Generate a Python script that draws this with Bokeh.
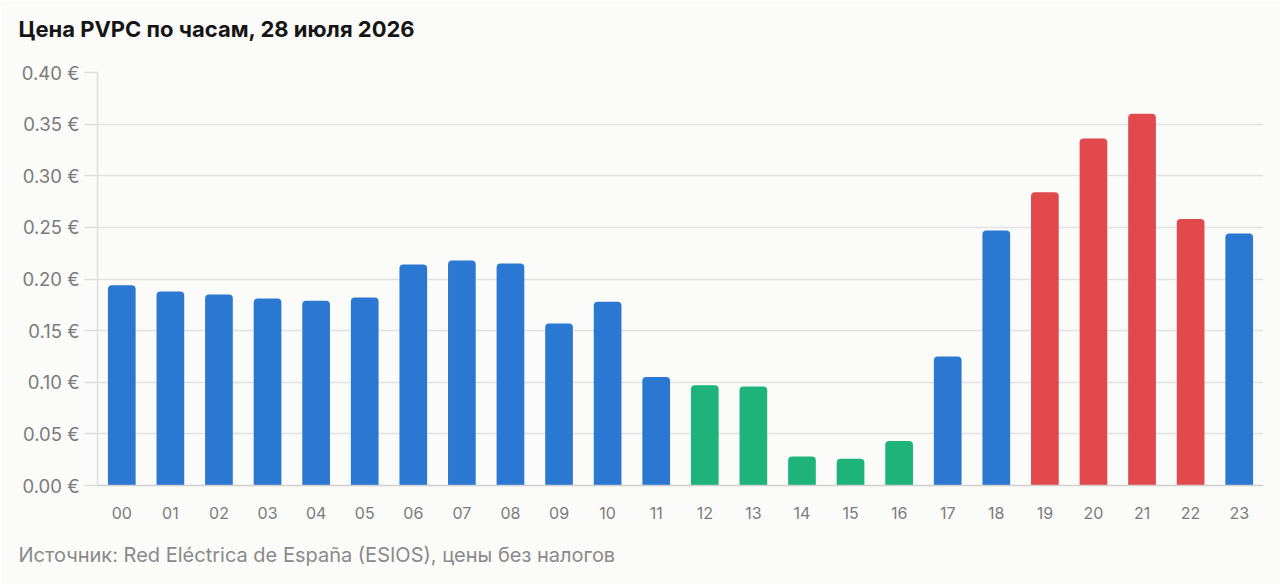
from bokeh.plotting import figure
from bokeh.models import ColumnDataSource, FactorRange, Range1d, Title, PrintfTickFormatter
from bokeh.transform import factor_cmap
from bokeh.embed import file_html
from bokeh.resources import INLINE

# ---- data ----
hours = ["00", "01", "02", "03", "04", "05", "06", "07", "08", "09", "10", "11",
         "12", "13", "14", "15", "16", "17", "18", "19", "20", "21", "22", "23"]
prices = [0.194, 0.188, 0.185, 0.181, 0.179, 0.182, 0.214, 0.218, 0.215, 0.157, 0.178, 0.105,
          0.097, 0.096, 0.028, 0.026, 0.043, 0.125, 0.247, 0.284, 0.336, 0.360, 0.258, 0.244]
bands = ["normal", "normal", "normal", "normal", "normal", "normal", "normal", "normal",
         "normal", "normal", "normal", "normal", "cheap", "cheap", "cheap", "cheap",
         "cheap", "normal", "normal", "peak", "peak", "peak", "peak", "normal"]
band_names = ["normal", "cheap", "peak"]
y_ticks = [0.0, 0.05, 0.10, 0.15, 0.20, 0.25, 0.30, 0.35, 0.40]

title_text = "Цена PVPC по часам, 28 июля 2026"
source_text = "Источник: Red Eléctrica de España (ESIOS), цены без налогов"

BG = "#fbfbf9"
FONT = "Inter"

src = ColumnDataSource(dict(hour=hours, price=prices, band=bands))

p = figure(width=1280, height=584,
           x_range=FactorRange(factors=hours, range_padding=0),
           y_range=Range1d(0, 0.40),
           output_backend="svg", toolbar_location=None,
           min_border_left=97, min_border_right=17,
           min_border_top=72, min_border_bottom=99,
           background_fill_color=BG, border_fill_color=BG,
           outline_line_color=None)

p.vbar(x="hour", top="price", width=0.57, source=src,
       fill_color=factor_cmap("band", palette=["#2b78d3", "#1db37a", "#e2494c"], factors=band_names),
       line_color=None, border_radius=(4, 4, 0, 0))

# y axis
p.yaxis.ticker = y_ticks
p.yaxis.formatter = PrintfTickFormatter(format="%.2f €")
p.yaxis.axis_line_color = "#dedede"
p.yaxis.axis_line_width = 1.5
p.yaxis.major_tick_line_color = "#dedede"
p.yaxis.major_tick_line_width = 1.5
p.yaxis.major_tick_out = 13
p.yaxis.major_tick_in = 0
p.yaxis.minor_tick_line_color = None
p.yaxis.major_label_standoff = 5
p.yaxis.major_label_text_font = FONT
p.yaxis.major_label_text_font_size = "18.5px"
p.yaxis.major_label_text_color = "#7b7b7b"

# x axis
p.xaxis.axis_line_color = "#cfcfcf"
p.xaxis.axis_line_width = 1.5
p.xaxis.major_tick_line_color = None
p.xaxis.minor_tick_line_color = None
p.xaxis.major_label_standoff = 15
p.xaxis.major_label_text_font = FONT
p.xaxis.major_label_text_font_size = "16px"
p.xaxis.major_label_text_color = "#7b7b7b"

p.xgrid.grid_line_color = None
p.ygrid.grid_line_color = "#e2e2e2"
p.ygrid.grid_line_width = 1.5

# header: spacer panel next to the frame, then the title on top
p.add_layout(Title(text=" ", text_font_size="12px", standoff=0), "above")
p.add_layout(Title(text=title_text, align="left", offset=-79, standoff=26,
                   vertical_align="top",
                   text_font=FONT, text_font_size="22px", text_font_style="bold",
                   text_color="#151515"), "above")
# footer: spacer panel after the x axis, then the source line
p.add_layout(Title(text=" ", text_font_size="12px", standoff=3), "below")
p.add_layout(Title(text=source_text, align="left", offset=-79, standoff=0,
                   text_font=FONT, text_font_size="20px", text_font_style="normal",
                   text_color="#8a8a8a"), "below")

open("out.html", "w").write(file_html(p, INLINE))
